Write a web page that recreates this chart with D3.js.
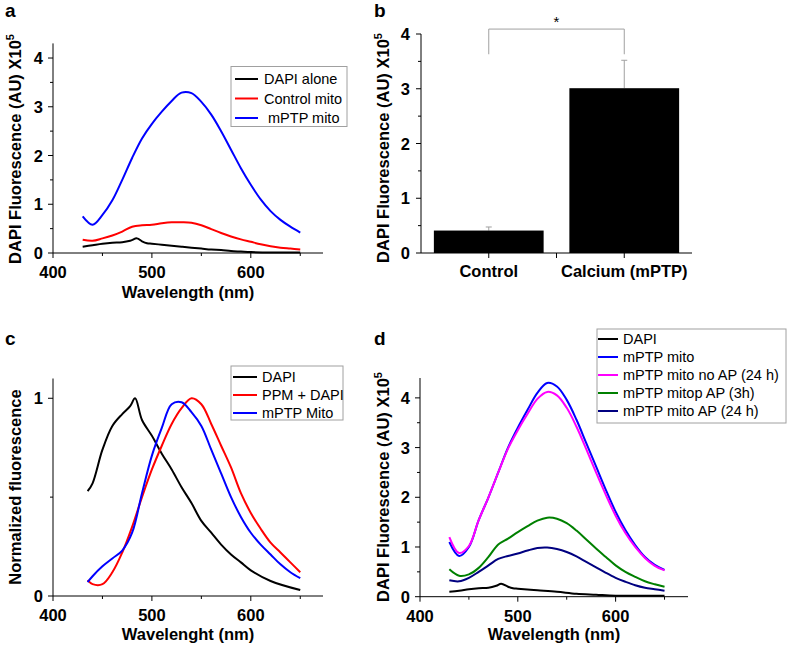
<!DOCTYPE html>
<html><head><meta charset="utf-8">
<script src="https://cdn.jsdelivr.net/npm/d3@7"></script>
<style>
html,body{margin:0;padding:0;background:#fff;}
svg{display:block;font-family:"Liberation Sans",Arial,Helvetica,sans-serif;}
</style></head>
<body>
<svg id="chart" width="787" height="649"></svg>
<script>
// ---------- DATA ----------
// Panel a
const wlA = [430,440,450,460,470,480,490,500,510,520,530,540,550,560,570,580,590,600,610,620,630,640,650];
const aMptp = [0.75,0.58,0.78,1.08,1.50,1.95,2.35,2.65,2.90,3.12,3.29,3.28,3.10,2.84,2.50,2.12,1.74,1.40,1.10,0.86,0.68,0.54,0.42];
const aControl = [0.27,0.25,0.30,0.36,0.44,0.54,0.57,0.58,0.61,0.63,0.63,0.62,0.57,0.49,0.41,0.34,0.28,0.23,0.18,0.14,0.11,0.09,0.07];
const wlADapi = [430,440,450,460,470,478,485,490,495,500,510,520,530,540,550,560,570,580,590,600,620,650];
const aDapi = [0.13,0.16,0.19,0.21,0.22,0.25,0.30,0.24,0.20,0.19,0.17,0.15,0.13,0.11,0.09,0.07,0.06,0.04,0.03,0.02,0.01,0.01];
const legendA = ["DAPI alone","Control mito"," mPTP mito"];

// Panel b
const catsB = ["Control","Calcium (mPTP)"];
const meansB = [0.41,3.01];
const errsB = [0.065,0.51];
const sigB = [4.09,3.63,4.24]; // bracket level, drop end, star level

// Panel c
const wlC = [435,440,450,460,470,480,490,500,510,520,530,540,550,560,570,580,590,600,610,620,630,640,650];
const cPpm = [0.08,0.06,0.06,0.12,0.22,0.35,0.50,0.64,0.76,0.87,0.95,1.00,0.97,0.87,0.76,0.65,0.52,0.42,0.34,0.27,0.22,0.17,0.12];
const cMptp = [0.07,0.10,0.15,0.19,0.23,0.32,0.52,0.71,0.85,0.97,0.98,0.93,0.86,0.74,0.62,0.50,0.40,0.32,0.26,0.21,0.16,0.12,0.09];
const wlCDapi = [435,440,450,460,470,478,483,490,500,510,520,530,540,550,560,570,580,590,600,620,650];
const cDapi = [0.53,0.57,0.74,0.86,0.92,0.96,1.00,0.89,0.81,0.72,0.64,0.55,0.47,0.38,0.32,0.26,0.21,0.17,0.13,0.076,0.03];
const legendC = ["DAPI","PPM + DAPI","mPTP Mito"];

// Panel d
const wlD = [430,440,450,460,470,480,490,500,510,520,530,540,550,560,570,580,590,600,610,620,630,640,650];
const dMptp = [1.10,0.82,1.00,1.54,2.00,2.50,3.00,3.40,3.76,4.10,4.30,4.23,3.96,3.56,3.09,2.62,2.15,1.71,1.34,1.04,0.80,0.64,0.54];
const dNoAP = [1.20,0.88,1.02,1.54,2.00,2.50,2.98,3.35,3.68,3.98,4.12,4.05,3.80,3.42,2.97,2.50,2.05,1.63,1.28,1.00,0.78,0.62,0.53];
const dAP3 = [0.55,0.42,0.45,0.58,0.80,1.05,1.17,1.30,1.42,1.53,1.59,1.57,1.48,1.33,1.15,0.97,0.80,0.63,0.50,0.40,0.31,0.25,0.20];
const dAP24 = [0.33,0.31,0.38,0.50,0.63,0.76,0.82,0.87,0.93,0.98,0.99,0.96,0.90,0.81,0.70,0.59,0.48,0.38,0.30,0.23,0.18,0.15,0.12];
const wlDDapi = [430,440,450,460,470,478,483,490,495,500,520,540,560,580,600,650];
const dDapi = [0.10,0.12,0.15,0.17,0.18,0.22,0.26,0.20,0.17,0.16,0.13,0.10,0.06,0.04,0.02,0.02];
const legendD = ["DAPI","mPTP mito","mPTP mito no AP (24 h)","mPTP mitop AP (3h)","mPTP mito AP (24 h)"];

const xTicks = [400,500,600];
const xMinor = [450,550,650];

// ---------- DRAWING ----------
const svg = d3.select("#chart");
const FONT_TICK = 16.5, FONT_TITLE = 16.5, FONT_LEG = 14.5;

function yTitle(g, x, y, text, sup){
  const t = g.append("text").attr("transform",`translate(${x},${y}) rotate(-90)`)
    .attr("text-anchor","middle").attr("font-weight","bold").attr("font-size",FONT_TITLE).attr("fill","#000");
  t.append("tspan").text(text);
  if(sup){ t.append("tspan").attr("dy",-7).attr("font-size",11).text(sup); }
}
function panelLabel(x,y,t){
  svg.append("text").attr("x",x).attr("y",y).attr("font-weight","bold").attr("font-size",19).text(t);
}
function axes(xs, ys, yMajor, yMinor, fmt){
  const [x0,x1] = xs.range(); const [y0,y1] = ys.range();
  const g = svg.append("g");
  g.append("line").attr("x1",x0).attr("x2",x1).attr("y1",y0).attr("y2",y0).attr("stroke","#000");
  g.append("line").attr("x1",x0).attr("x2",x0).attr("y1",y0).attr("y2",y1).attr("stroke","#000");
  xTicks.forEach(v=>{
    g.append("line").attr("x1",xs(v)).attr("x2",xs(v)).attr("y1",y0).attr("y2",y0+5).attr("stroke","#000");
    g.append("text").attr("x",xs(v)).attr("y",y0+25).attr("text-anchor","middle")
     .attr("font-weight","bold").attr("font-size",FONT_TICK).text(v);
  });
  xMinor.forEach(v=>{
    g.append("line").attr("x1",xs(v)).attr("x2",xs(v)).attr("y1",y0).attr("y2",y0+3).attr("stroke","#000");
  });
  yMajor.forEach(v=>{
    g.append("line").attr("x1",x0-5).attr("x2",x0).attr("y1",ys(v)).attr("y2",ys(v)).attr("stroke","#000");
    g.append("text").attr("x",x0-10).attr("y",ys(v)+6).attr("text-anchor","end")
     .attr("font-weight","bold").attr("font-size",FONT_TICK).text(fmt?fmt(v):v);
  });
  yMinor.forEach(v=>{
    g.append("line").attr("x1",x0-3).attr("x2",x0).attr("y1",ys(v)).attr("y2",ys(v)).attr("stroke","#000");
  });
}
function curve(xs, ys, wl, vals, color){
  const line = d3.line().x((d,i)=>xs(wl[i])).y(d=>ys(d)).curve(d3.curveCatmullRom.alpha(0.5));
  svg.append("path").datum(vals).attr("d",line).attr("fill","none").attr("stroke",color).attr("stroke-width",2);
}
function legend(x,y,w,h,labels,colors,rowY0,dy,lineX0,lineX1,textX){
  const g = svg.append("g");
  g.append("rect").attr("x",x).attr("y",y).attr("width",w).attr("height",h).attr("fill","#fff").attr("stroke","#a0a0a0");
  labels.forEach((l,i)=>{
    const yy = rowY0 + i*dy;
    g.append("line").attr("x1",lineX0).attr("x2",lineX1).attr("y1",yy).attr("y2",yy).attr("stroke",colors[i]).attr("stroke-width",2);
    g.append("text").attr("x",textX).attr("y",yy+5).attr("font-size",FONT_LEG).style("white-space","pre").text(l);
  });
}

// Panel a
{
  const xs = d3.scaleLinear().domain([400,673]).range([53,323]);
  const ys = d3.scaleLinear().domain([0,4.3]).range([253,43.4]);
  axes(xs, ys, [0,1,2,3,4], [0.5,1.5,2.5,3.5]);
  curve(xs, ys, wlADapi, aDapi, "#000");
  curve(xs, ys, wlA, aControl, "#ff0000");
  curve(xs, ys, wlA, aMptp, "#0000ff");
  legend(231,66.5,116,60,legendA,["#000","#ff0000","#0000ff"],79,19.5,235,258,264);
  yTitle(svg, 21, 149, "DAPI Fluorescence (AU) X10", "5");
  svg.append("text").attr("x",188).attr("y",298).attr("text-anchor","middle").attr("font-weight","bold").attr("font-size",FONT_TITLE).text("Wavelength (nm)");
  panelLabel(5,17,"a");
}

// Panel b
{
  const xb = d3.scaleBand().domain(catsB).range([421,692]).paddingInner(0.19).paddingOuter(0.095);
  const yb = d3.scaleLinear().domain([0,4]).range([253,34]);
  const g = svg.append("g");
  g.append("line").attr("x1",421).attr("x2",692).attr("y1",yb(0)).attr("y2",yb(0)).attr("stroke","#000");
  g.append("line").attr("x1",421).attr("x2",421).attr("y1",yb(0)).attr("y2",yb(4)).attr("stroke","#000");
  [0,1,2,3,4].forEach(v=>{
    g.append("line").attr("x1",416).attr("x2",421).attr("y1",yb(v)).attr("y2",yb(v)).attr("stroke","#000");
    g.append("text").attr("x",410).attr("y",yb(v)+6).attr("text-anchor","end").attr("font-weight","bold").attr("font-size",FONT_TICK).text(v);
  });
  [0.5,1.5,2.5,3.5].forEach(v=>{
    g.append("line").attr("x1",418).attr("x2",421).attr("y1",yb(v)).attr("y2",yb(v)).attr("stroke","#000");
  });
  const centers = catsB.map(c=>xb(c)+xb.bandwidth()/2);
  [centers[0], (centers[0]+centers[1])/2, centers[1]].forEach(x=>{
    g.append("line").attr("x1",x).attr("x2",x).attr("y1",yb(0)).attr("y2",yb(0)+5).attr("stroke","#000");
  });
  catsB.forEach((c,i)=>{
    g.append("line").attr("x1",centers[i]).attr("x2",centers[i]).attr("y1",yb(meansB[i])).attr("y2",yb(meansB[i]+errsB[i])).attr("stroke","#a0a0a0").attr("stroke-width",1);
    g.append("line").attr("x1",centers[i]-3).attr("x2",centers[i]+3).attr("y1",yb(meansB[i]+errsB[i])).attr("y2",yb(meansB[i]+errsB[i])).attr("stroke","#a0a0a0");
    g.append("rect").attr("x",xb(c)).attr("y",yb(meansB[i])).attr("width",xb.bandwidth()).attr("height",yb(0)-yb(meansB[i])).attr("fill","#000");
    g.append("text").attr("x",centers[i]).attr("y",277).attr("text-anchor","middle").attr("font-weight","bold").attr("font-size",FONT_TICK).text(c);
  });
  // significance bracket
  g.append("path").attr("d",`M${centers[0]},${yb(sigB[1])}V${yb(sigB[0])}H${centers[1]}V${yb(sigB[1])}`)
    .attr("fill","none").attr("stroke","#a0a0a0");
  g.append("text").attr("x",(centers[0]+centers[1])/2).attr("y",yb(sigB[2])+6).attr("text-anchor","middle").attr("font-size",15).text("*");
  yTitle(svg, 389, 148, "DAPI Fluorescence (AU) X10", "5");
  panelLabel(374,17,"b");
}

// Panel c
{
  const xs = d3.scaleLinear().domain([400,673]).range([53,323]);
  const ys = d3.scaleLinear().domain([0,1.1]).range([596,378.5]);
  axes(xs, ys, [0,1], [0.5]);
  curve(xs, ys, wlCDapi, cDapi, "#000");
  curve(xs, ys, wlC, cPpm, "#ff0000");
  curve(xs, ys, wlC, cMptp, "#0000ff");
  legend(231,366,112,54,legendC,["#000","#ff0000","#0000ff"],377,18,233,257,262);
  yTitle(svg, 21, 487, "Normalized fluorescence");
  svg.append("text").attr("x",188).attr("y",640).attr("text-anchor","middle").attr("font-weight","bold").attr("font-size",FONT_TITLE).text("Wavelenght (nm)");
  panelLabel(5,345,"c");
}

// Panel d
{
  const xs = d3.scaleLinear().domain([400,674]).range([420,688]);
  const ys = d3.scaleLinear().domain([0,4.4]).range([596.7,378]);
  axes(xs, ys, [0,1,2,3,4], [0.5,1.5,2.5,3.5]);
  curve(xs, ys, wlDDapi, dDapi, "#000");
  curve(xs, ys, wlD, dMptp, "#0000ff");
  curve(xs, ys, wlD, dNoAP, "#ff00ff");
  curve(xs, ys, wlD, dAP3, "#008000");
  curve(xs, ys, wlD, dAP24, "#000080");
  legend(597,329,189,94,legendD,["#000","#0000ff","#ff00ff","#008000","#000080"],339,18,598,618,623);
  yTitle(svg, 389, 487, "DAPI Fluorescence (AU) X10", "5");
  svg.append("text").attr("x",554).attr("y",640).attr("text-anchor","middle").attr("font-weight","bold").attr("font-size",FONT_TITLE).text("Wavelength (nm)");
  panelLabel(374,345,"d");
}
</script>
</body></html>
